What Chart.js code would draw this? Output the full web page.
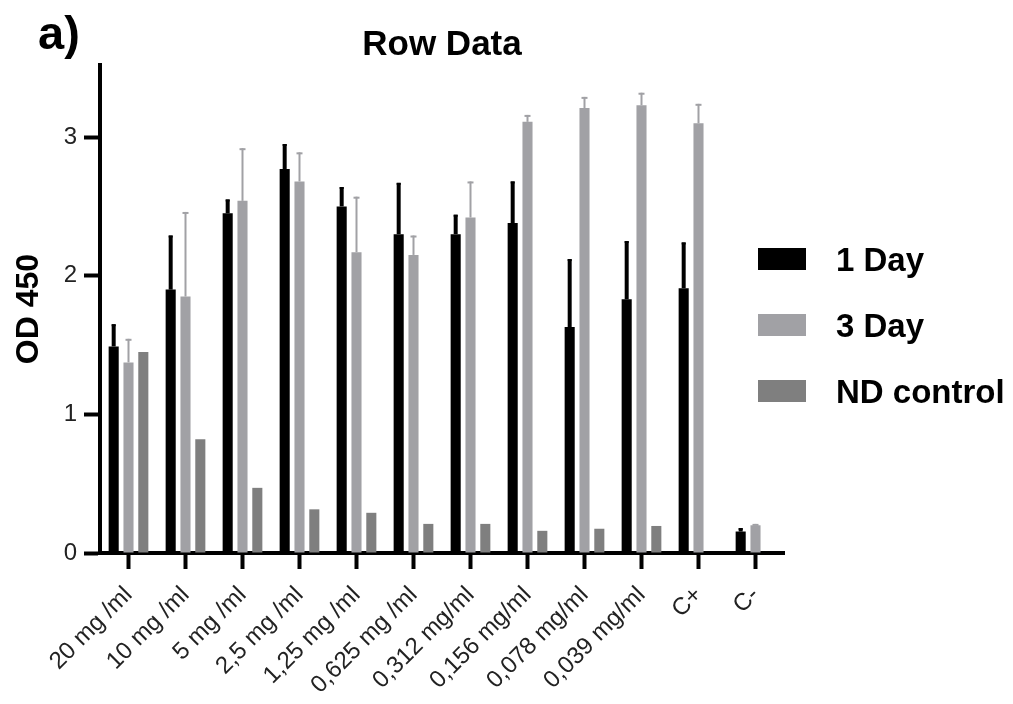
<!DOCTYPE html>
<html>
<head>
<meta charset="utf-8">
<script src="https://cdn.jsdelivr.net/npm/chart.js@4.4.1/dist/chart.umd.min.js"></script>
<style>
  body { margin: 0; background: #fff; }
  #wrap { position: relative; width: 1013px; height: 704px; font-family: "Liberation Sans", Arial, sans-serif; }
  #tag { position: absolute; left: 38px; top: 9px; font-size: 47px; font-weight: bold; line-height: 1; }
  .leg { position: absolute; left: 758px; display: flex; align-items: center; height: 32px; }
  .leg span.box { width: 48px; height: 22px; display: inline-block; }
  .leg span.txt { margin-left: 30px; font-size: 33px; font-weight: bold; line-height: 1; white-space: nowrap; }
</style>
</head>
<body>
<div id="wrap">
  <canvas id="odChart" width="1013" height="704"></canvas>
  <div id="tag">a)</div>
  <div id="legend"></div>
</div>
<script>
const categories = ["20 mg /ml", "10 mg /ml", "5 mg /ml", "2,5 mg /ml", "1,25 mg /ml", "0,625 mg /ml",
  "0,312 mg/ml", "0,156 mg/ml", "0,078 mg/ml", "0,039 mg/ml", "C+", "C-"]

const day1 = [1.49, 1.90, 2.45, 2.77, 2.50, 2.30, 2.30, 2.38, 1.63, 1.83, 1.91, 0.155]
const day1Err = [0.16, 0.39, 0.10, 0.18, 0.14, 0.37, 0.14, 0.30, 0.49, 0.42, 0.33, 0.025]
const day3 = [1.375, 1.85, 2.54, 2.68, 2.17, 2.15, 2.42, 3.11, 3.21, 3.23, 3.10, 0.20]
const day3Err = [0.17, 0.61, 0.38, 0.21, 0.40, 0.14, 0.26, 0.05, 0.08, 0.09, 0.14, 0.01]
const ndControl = [1.45, 0.82, 0.47, 0.315, 0.29, 0.21, 0.21, 0.16, 0.175, 0.195, null, null]

const yTicks = [0, 1, 2, 3]

const FONT = '"Liberation Sans", Arial, sans-serif'

// error bars (upper half only), drawn from the y scale
const errorBars = {
  id: 'errorBars',
  afterDatasetsDraw(chart) {
    const ctx = chart.ctx
    const y = chart.scales.y
    chart.data.datasets.forEach(function(ds, i) {
      if (!ds.errors) return
      const meta = chart.getDatasetMeta(i)
      meta.data.forEach(function(bar, j) {
        const v = ds.data[j], e = ds.errors[j]
        if (v == null || e == null) return
        const top = y.getPixelForValue(v + e)
        ctx.save()
        ctx.strokeStyle = ds.backgroundColor
        ctx.lineWidth = ds.errWidth
        ctx.beginPath()
        ctx.moveTo(bar.x, bar.y)
        ctx.lineTo(bar.x, top)
        ctx.stroke()
        ctx.lineWidth = 2
        ctx.beginPath()
        ctx.moveTo(bar.x - ds.capHalf, top + 1)
        ctx.lineTo(bar.x + ds.capHalf, top + 1)
        ctx.stroke()
        ctx.restore()
      })
    })
  }
}

const datasets = [
  { label: '1 Day', data: day1, errors: day1Err, backgroundColor: '#000000', errWidth: 4, capHalf: 2 },
  { label: '3 Day', data: day3, errors: day3Err, backgroundColor: '#a1a1a5', errWidth: 2, capHalf: 3 },
  { label: 'ND control', data: ndControl, backgroundColor: '#7f7f7f' }
]

const ctx = document.getElementById('odChart')
new Chart(ctx, {
  type: 'bar',
  data: {
    labels: categories,
    datasets: datasets.map(function(d) {
      return Object.assign({ borderWidth: 0, categoryPercentage: 0.78, barPercentage: 0.68 }, d)
    })
  },
  plugins: [errorBars],
  options: {
    responsive: false,
    devicePixelRatio: 1,
    animation: false,
    layout: { padding: { left: 0, right: 229, top: 0, bottom: 0 } },
    plugins: {
      legend: { display: false },
      tooltip: { enabled: false },
      title: {
        display: true,
        text: 'Row Data',
        fullSize: false,
        color: '#000',
        font: { family: FONT, size: 35, weight: 'bold', lineHeight: 1 },
        padding: { top: 28, bottom: 2 }
      }
    },
    scales: {
      x: {
        grid: { drawOnChartArea: false, offset: false, tickLength: 16, tickWidth: 4, tickColor: '#000' },
        border: { display: true, width: 4, color: '#000' },
        ticks: {
          autoSkip: false, maxRotation: 45, minRotation: 45, padding: 12,
          color: '#222', font: { family: FONT, size: 24 }
        },
        afterFit: function(scale) { scale.height = 151 }
      },
      y: {
        min: 0,
        max: 3.52,
        grid: { drawOnChartArea: false, tickLength: 16, tickWidth: 4, tickColor: '#000' },
        border: { display: true, width: 4, color: '#000' },
        afterBuildTicks: function(scale) {
          scale.ticks = yTicks.map(function(v) { return { value: v } })
        },
        ticks: { padding: 7, color: '#222', font: { family: FONT, size: 24 } },
        title: {
          display: true, text: 'OD 450', color: '#000',
          font: { family: FONT, size: 32, weight: 'bold' },
          padding: { top: 10, bottom: 0 }
        },
        afterFit: function(scale) { scale.width = 100 }
      }
    }
  }
})

// legend
const legend = document.getElementById('legend')
datasets.forEach(function(d, i) {
  const row = document.createElement('div')
  row.className = 'leg'
  row.style.top = (243 + i * 66) + 'px'
  row.innerHTML = '<span class="box" style="background:' + d.backgroundColor + '"></span><span class="txt">' + d.label + '</span>'
  legend.appendChild(row)
})
</script>
</body>
</html>
